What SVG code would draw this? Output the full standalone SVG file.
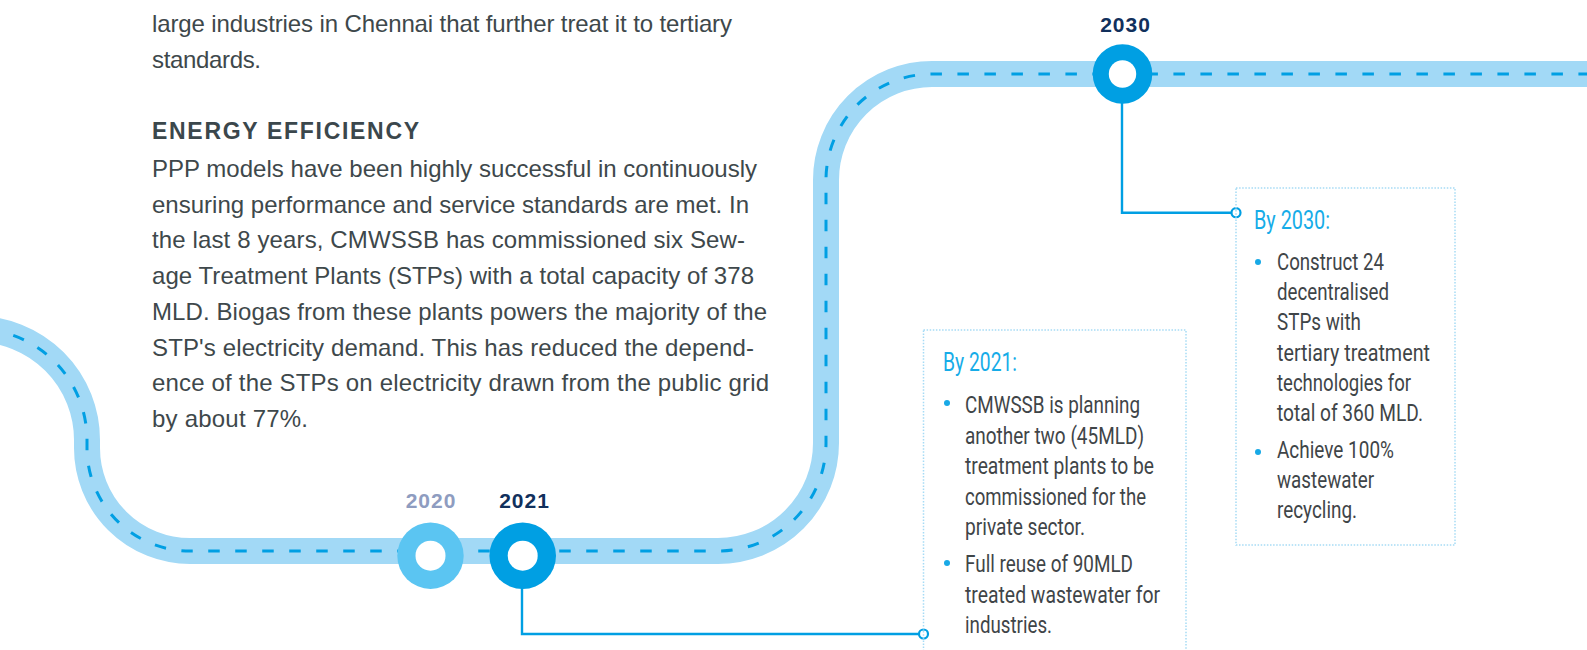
<svg xmlns="http://www.w3.org/2000/svg" width="1587" height="650" viewBox="0 0 1587 650">
<style>
.body{font-family:"Liberation Sans",Arial,sans-serif;font-size:24px;fill:#3e484b}
.head{font-family:"Liberation Sans",Arial,sans-serif;font-size:23px;font-weight:bold;fill:#3b474c;letter-spacing:1.7px}
.year{font-family:"Liberation Sans",Arial,sans-serif;font-size:21px;font-weight:bold;letter-spacing:1px;text-anchor:middle}
.bh{font-family:Roboto,"Liberation Sans",sans-serif;font-size:26px;fill:#16ace8}
.bt{font-family:Roboto,"Liberation Sans",sans-serif;font-size:23.5px;fill:#3f4548}
.box{fill:none;stroke:#a6dbf5;stroke-width:1.5;stroke-dasharray:1.5 1.6}
.bul{fill:#18a9e6}
.conn{fill:none;stroke:#009fe3;stroke-width:2.4}
.endc{fill:#fff;stroke:#009fe3;stroke-width:2.2}
</style>
<rect width="1587" height="650" fill="#fff"/>
<g id="road">
<path d="M -40 329 L -24 329 A 111 111 0 0 1 87 440 L 87 448 A 103 103 0 0 0 190 551 L 718 551 A 108 108 0 0 0 826 443 L 826 180 A 106 106 0 0 1 932 74 L 1600 74" fill="none" stroke="#a2d9f6" stroke-width="26"/>
<path d="M -40 329 L -24 329 A 111 111 0 0 1 87 440 L 87 448 A 103 103 0 0 0 190 551 L 718 551 A 108 108 0 0 0 826 443 L 826 180 A 106 106 0 0 1 932 74 L 1600 74" fill="none" stroke="#009fe3" stroke-width="3" stroke-dasharray="11.5 15.5"/>
</g>
<g id="text-block">
<text class="body" x="152" y="32.3" textLength="580">large industries in Chennai that further treat it to tertiary</text>
<text class="body" x="152" y="68.3" textLength="109">standards.</text>
<text class="head" x="152" y="139.3">ENERGY EFFICIENCY</text>
<text class="body" x="152" y="177" textLength="605">PPP models have been highly successful in continuously</text>
<text class="body" x="152" y="212.7" textLength="597">ensuring performance and service standards are met. In</text>
<text class="body" x="152" y="248.4" textLength="593">the last 8 years, CMWSSB has commissioned six Sew-</text>
<text class="body" x="152" y="284.1" textLength="602">age Treatment Plants (STPs) with a total capacity of 378</text>
<text class="body" x="152" y="319.8" textLength="615">MLD. Biogas from these plants powers the majority of the</text>
<text class="body" x="152" y="355.5" textLength="602">STP's electricity demand. This has reduced the depend-</text>
<text class="body" x="152" y="391.2" textLength="617">ence of the STPs on electricity drawn from the public grid</text>
<text class="body" x="152" y="426.9" textLength="156">by about 77%.</text>
</g>
<g id="connectors">
<polyline class="conn" points="522,580 522,634 919,634"/>
<circle class="endc" cx="923.5" cy="634" r="4.5"/>
<polyline class="conn" points="1122,100 1122,212.7 1231,212.7"/>
<circle class="endc" cx="1236" cy="212.7" r="4.5"/>
</g>
<g id="node-2020">
<circle cx="430.5" cy="555.7" r="33.2" fill="#5bc5f2"/>
<circle cx="430.5" cy="555.7" r="15" fill="#fff"/>
<text class="year" x="431" y="508" fill="#8e9cc0">2020</text>
</g>
<g id="node-2021">
<circle cx="522.7" cy="555.7" r="33.3" fill="#009fe3"/>
<circle cx="522.7" cy="555.7" r="15" fill="#fff"/>
<text class="year" x="524.5" y="508" fill="#11305c">2021</text>
</g>
<g id="node-2030">
<circle cx="1122.5" cy="74" r="29.8" fill="#009fe3"/>
<circle cx="1122.5" cy="74" r="13.7" fill="#fff"/>
<text class="year" x="1125.5" y="32" fill="#11305c">2030</text>
</g>
<g id="box-2021">
<rect class="box" x="923.5" y="330" width="262.5" height="360"/>
<text class="bh" x="943" y="371" textLength="74" lengthAdjust="spacingAndGlyphs">By 2021:</text>
<circle class="bul" cx="947" cy="403" r="3"/>
<text class="bt" x="965" y="413" textLength="175" lengthAdjust="spacingAndGlyphs">CMWSSB is planning</text>
<text class="bt" x="965" y="443.5" textLength="179" lengthAdjust="spacingAndGlyphs">another two (45MLD)</text>
<text class="bt" x="965" y="474" textLength="189" lengthAdjust="spacingAndGlyphs">treatment plants to be</text>
<text class="bt" x="965" y="504.5" textLength="181" lengthAdjust="spacingAndGlyphs">commissioned for the</text>
<text class="bt" x="965" y="535" textLength="120" lengthAdjust="spacingAndGlyphs">private sector.</text>
<circle class="bul" cx="947" cy="563" r="3"/>
<text class="bt" x="965" y="572" textLength="168" lengthAdjust="spacingAndGlyphs">Full reuse of 90MLD</text>
<text class="bt" x="965" y="602.5" textLength="195" lengthAdjust="spacingAndGlyphs">treated wastewater for</text>
<text class="bt" x="965" y="633" textLength="87" lengthAdjust="spacingAndGlyphs">industries.</text>
</g>
<g id="box-2030">
<rect class="box" x="1236" y="188" width="219" height="357"/>
<text class="bh" x="1254" y="229" textLength="76" lengthAdjust="spacingAndGlyphs">By 2030:</text>
<circle class="bul" cx="1258" cy="262" r="3"/>
<text class="bt" x="1277" y="270" textLength="107" lengthAdjust="spacingAndGlyphs">Construct 24</text>
<text class="bt" x="1277" y="300" textLength="112" lengthAdjust="spacingAndGlyphs">decentralised</text>
<text class="bt" x="1277" y="330" textLength="84" lengthAdjust="spacingAndGlyphs">STPs with</text>
<text class="bt" x="1277" y="360.5" textLength="153" lengthAdjust="spacingAndGlyphs">tertiary treatment</text>
<text class="bt" x="1277" y="391" textLength="134" lengthAdjust="spacingAndGlyphs">technologies for</text>
<text class="bt" x="1277" y="421" textLength="146" lengthAdjust="spacingAndGlyphs">total of 360 MLD.</text>
<circle class="bul" cx="1258" cy="452" r="3"/>
<text class="bt" x="1277" y="458" textLength="117" lengthAdjust="spacingAndGlyphs">Achieve 100%</text>
<text class="bt" x="1277" y="488" textLength="97" lengthAdjust="spacingAndGlyphs">wastewater</text>
<text class="bt" x="1277" y="518" textLength="80" lengthAdjust="spacingAndGlyphs">recycling.</text>
</g>
</svg>
